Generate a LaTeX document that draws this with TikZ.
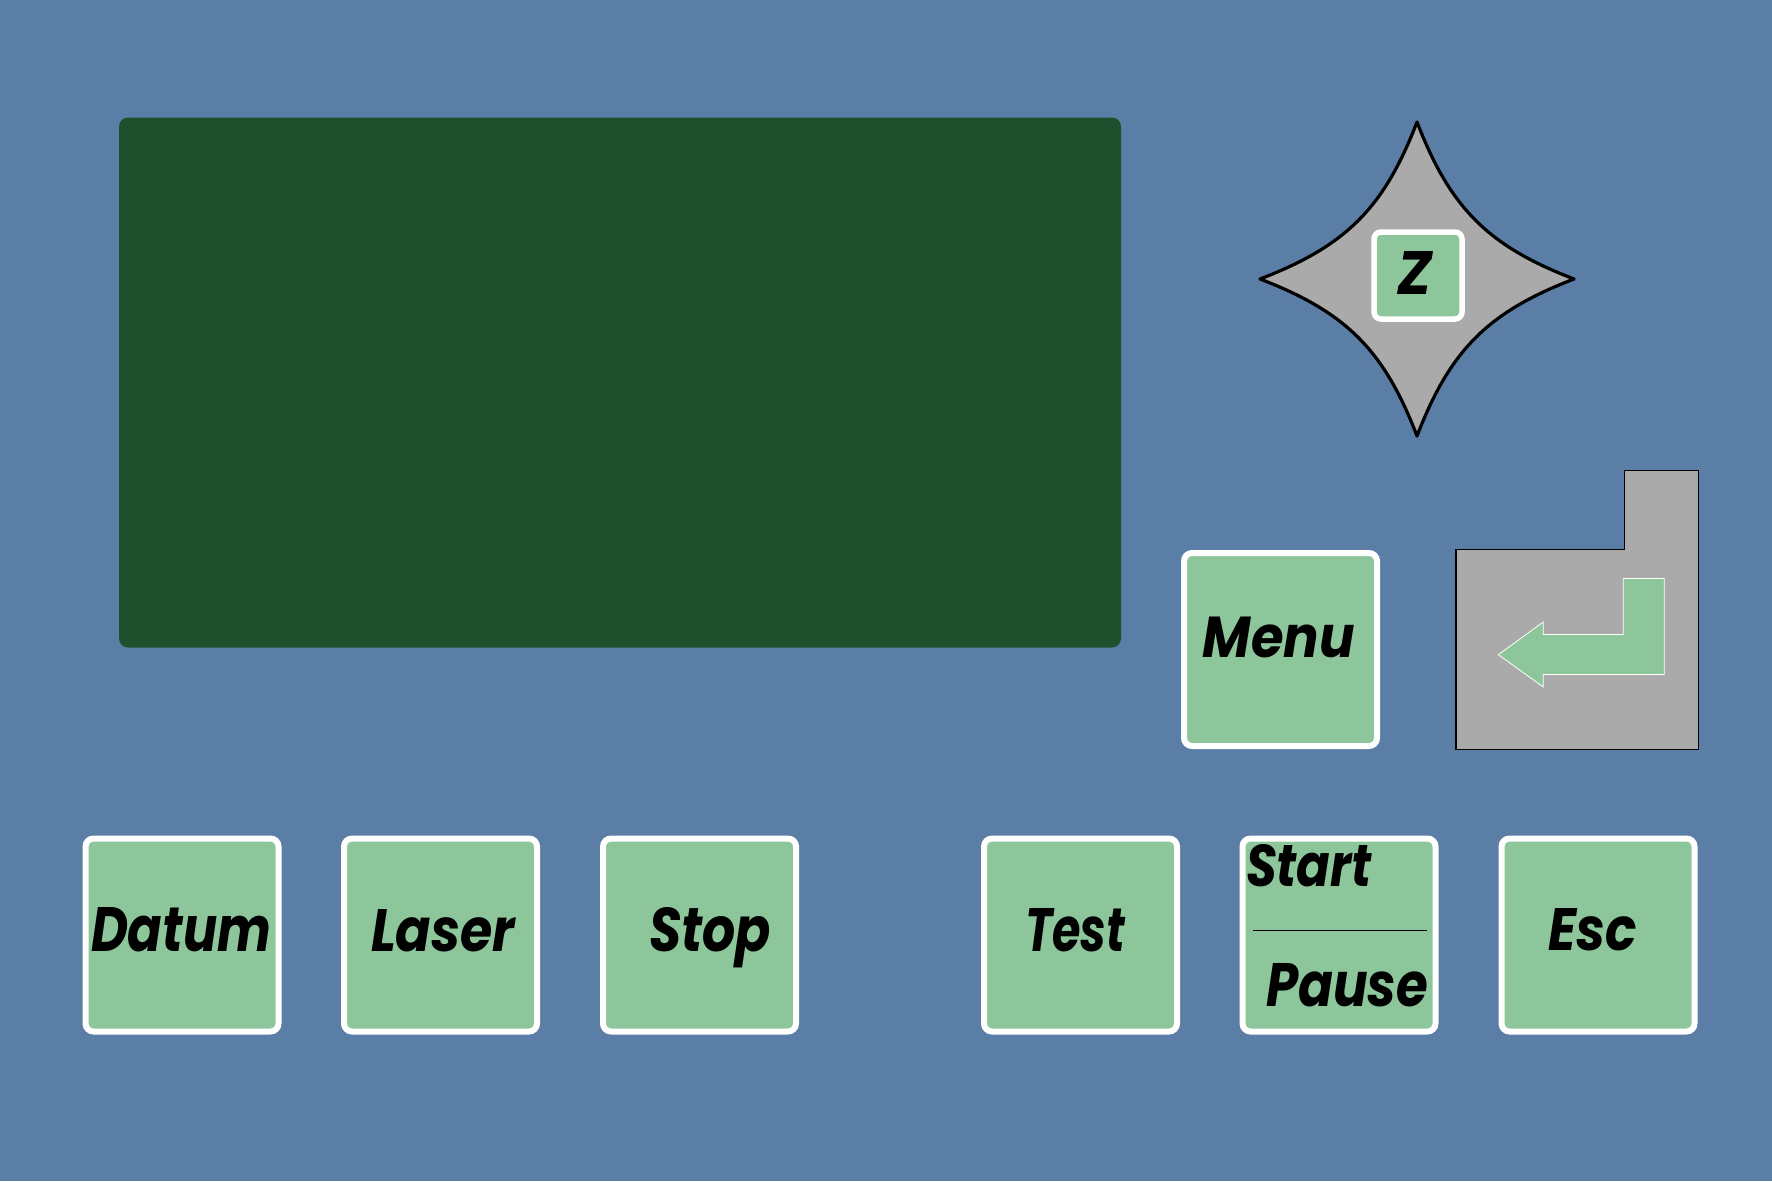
\documentclass[tikz,border=0pt]{standalone}
\usepackage{fontspec}
\usepackage{graphicx}
\newfontfamily\keyfont{Poppins}[UprightFont=*-BoldItalic]
\definecolor{panelbg}{RGB}{91,126,166}
\definecolor{screengreen}{RGB}{30,80,45}
\definecolor{keygreen}{RGB}{141,198,155}
\definecolor{panelgray}{RGB}{170,170,170}
\newcommand{\keylabel}[3]{\resizebox{#1pt}{#2pt}{\keyfont #3}}
\tikzset{
  keybox/.style={draw=white, line width=6pt, fill=keygreen, rounded corners=8pt,
    inner sep=0pt, minimum width=193pt, minimum height=193pt},
  keytext/.style={anchor=base west, inner sep=0pt, outer sep=0pt, text=black},
}
\begin{document}
\begin{tikzpicture}[x=1pt,y=-1pt]
\useasboundingbox (0,0) rectangle (1772,1181);
\fill[panelbg] (0,0) rectangle (1772,1181);
% screen
\node[fill=screengreen, rounded corners=9pt, inner sep=0pt, minimum width=1002pt, minimum height=530pt] (screen) at (620,382.5) {};
% star
\draw[fill=panelgray, draw=black, line width=3.2pt, line join=round]
  (1417,122) .. controls (1450,208) and (1488,246) .. (1574,279)
  .. controls (1488,312) and (1450,350) .. (1417,436)
  .. controls (1384,350) and (1346,312) .. (1260,279)
  .. controls (1346,246) and (1384,208) .. cycle;
\node[keybox, line width=5.5pt, rounded corners=7pt, minimum width=88pt, minimum height=87pt] (zkey) at (1418,275.5) {};
\node[keytext] (ztext) at (1397,294.4) {\keylabel{34.7}{43}{Z}};
% menu
\node[keybox] (menu) at (1280.5,649.5) {};
\node[keytext] (menutext) at (1202.7,657) {\keylabel{152}{40.5}{Menu}};
% enter key
\draw[fill=panelgray, draw=black, line width=1.2pt]
  (1456,549.5) -- (1624.5,549.5) -- (1624.5,470.5) -- (1698.5,470.5) -- (1698.5,749.5) -- (1456,749.5) -- cycle;
\draw[fill=keygreen, draw=white, line width=0.8pt]
  (1498.3,654.7) -- (1543.3,622) -- (1543.3,634.5) -- (1623.3,634.5) -- (1623.3,578.5) -- (1664.3,578.5)
  -- (1664.3,674.5) -- (1543.3,674.5) -- (1543.3,687) -- cycle;
% bottom keys
\node[keybox] (datum) at (182,935) {};
\node[keybox] (laser) at (440.5,935) {};
\node[keybox] (stop) at (699.5,935) {};
\node[keybox] (test) at (1080.5,935) {};
\node[keybox] (startpause) at (1339,935) {};
\node[keybox] (esc) at (1598,935) {};
\node[keytext] (datumtext) at (91,951) {\keylabel{180}{44}{Datum}};
\node[keytext] (lasertext) at (371,951) {\keylabel{144}{42}{Laser}};
\node[keytext] (stoptext) at (649,951) {\keylabel{122}{44}{Stop}};
\node[keytext] (testtext) at (1025,951) {\keylabel{100}{43}{Test}};
\node[keytext] (esctext) at (1548,950) {\keylabel{88.5}{42}{Esc}};
\node[keytext] (starttext) at (1246,886.7) {\keylabel{126}{42}{Start}};
\node[keytext] (pausetext) at (1266,1006.7) {\keylabel{162}{43}{Pause}};
\draw[black, line width=1pt] (1253,930) -- (1427,930);
\end{tikzpicture}
\end{document}
